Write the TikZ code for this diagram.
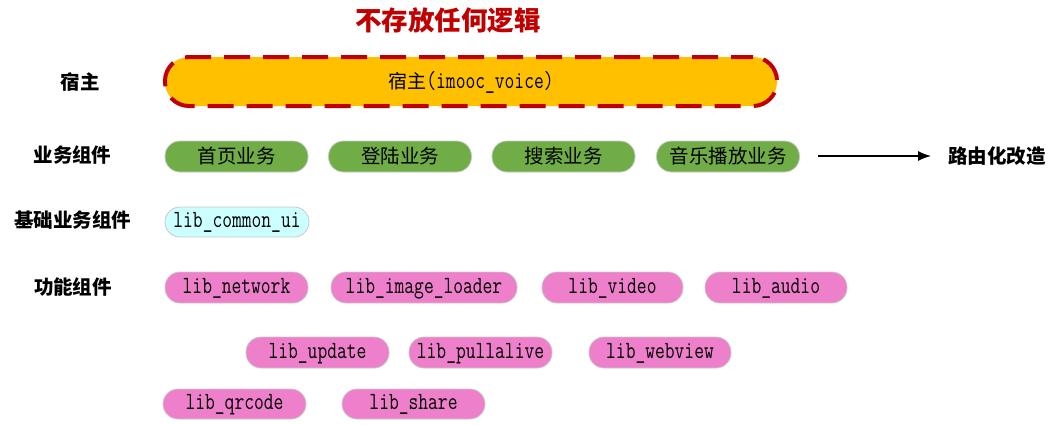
\documentclass[tikz,border=0pt]{standalone}
\usepackage{fontspec}
\usepackage{graphicx}
\setmainfont{Noto Sans CJK SC}
\newfontfamily\cjk{Noto Sans CJK SC}
\newcommand\tallmono[1]{\smash{\scalebox{1}[1.3]{\ttfamily #1}}}
\usetikzlibrary{arrows.meta}
\definecolor{titlered}{HTML}{C00000}
\definecolor{hostyellow}{HTML}{FFC000}
\definecolor{bizgreen}{HTML}{70AD47}
\definecolor{basecyan}{HTML}{CCFFFF}
\definecolor{funcpink}{HTML}{EE7FCB}
\definecolor{pillborder}{HTML}{C8C8C8}
\tikzset{
  pill/.style={rectangle, rounded corners=15pt, draw=pillborder, line width=0.8pt,
    minimum height=31pt, inner sep=0pt, text=black},
  bizbox/.style={pill, fill=bizgreen, minimum width=143pt, font=\cjk\fontsize{19.5}{21}\selectfont},
  monobox/.style={pill, text height=11.5pt, text depth=0pt, font=\fontsize{19}{21}\selectfont},
  basebox/.style={monobox, fill=basecyan, minimum width=144pt, minimum height=30pt},
  funcbox/.style={monobox, fill=funcpink, minimum width=143pt},
  rowlabel/.style={font=\cjk\bfseries\fontsize{19.5}{21}\selectfont, text=black, inner sep=0pt},
}
\begin{document}
\begin{tikzpicture}[x=1pt,y=-1pt]
\useasboundingbox (0,0) rectangle (1060,424);
% title
\node[font=\cjk\bfseries\fontsize{26.5}{28}\selectfont, text=titlered, inner sep=0pt] (title) at (448,20) {不存放任何逻辑};
% row labels
\node[rowlabel] (lhost) at (80,82) {宿主};
\node[rowlabel] (lbiz) at (72.5,155) {业务组件};
\node[rowlabel] (lbase) at (72.5,220) {基础业务组件};
\node[rowlabel] (lfunc) at (73,287) {功能组件};
% host
\node[rectangle, rounded corners=24pt, fill=hostyellow, minimum width=612pt, minimum height=49pt,
  preaction={draw=black!20, line width=1.2pt},
  draw=titlered, line width=4pt, dash pattern=on 26pt off 13pt, dash phase=4pt,
  inner sep=0pt, text height=13pt, text depth=0pt, font=\fontsize{19}{21}\selectfont] (host) at (471,81.5)
  {{\cjk 宿主}\tallmono{(imooc\_voice)}};
% business
\node[bizbox] (home) at (236.5,156.5) {首页业务};
\node[bizbox] (login) at (400,156.5) {登陆业务};
\node[bizbox] (search) at (563.5,156.5) {搜索业务};
\node[bizbox] (music) at (728,156.5) {音乐播放业务};
\coordinate (arrstart) at (818,156);
\node[rowlabel, anchor=west] (route) at (948,156) {路由化改造};
\coordinate (arrend) at (931,156);
\draw[-{Latex[length=13pt,width=10pt]}, line width=1.3pt] (arrstart) -- (arrend);
% base
\node[basebox] (common) at (237,222) {\tallmono{lib\_common\_ui}};
% function row 1
\node[funcbox] (network) at (236.5,287.5) {\tallmono{lib\_network}};
\node[funcbox, minimum width=186pt] (image) at (424,287.5) {\tallmono{lib\_image\_loader}};
\node[funcbox, minimum width=141pt] (video) at (612.5,287.5) {\tallmono{lib\_video}};
\node[funcbox, minimum width=142pt] (audio) at (776,287.5) {\tallmono{lib\_audio}};
% row 2
\node[funcbox] (update) at (317.5,352.5) {\tallmono{lib\_update}};
\node[funcbox] (pull) at (480.5,352.5) {\tallmono{lib\_pullalive}};
\node[funcbox, minimum width=142pt] (webview) at (660,352.5) {\tallmono{lib\_webview}};
% row 3
\node[funcbox, minimum height=30pt] (qrcode) at (234.5,404) {\tallmono{lib\_qrcode}};
\node[funcbox, minimum height=30pt] (share) at (413.5,404) {\tallmono{lib\_share}};
\end{tikzpicture}
\end{document}
